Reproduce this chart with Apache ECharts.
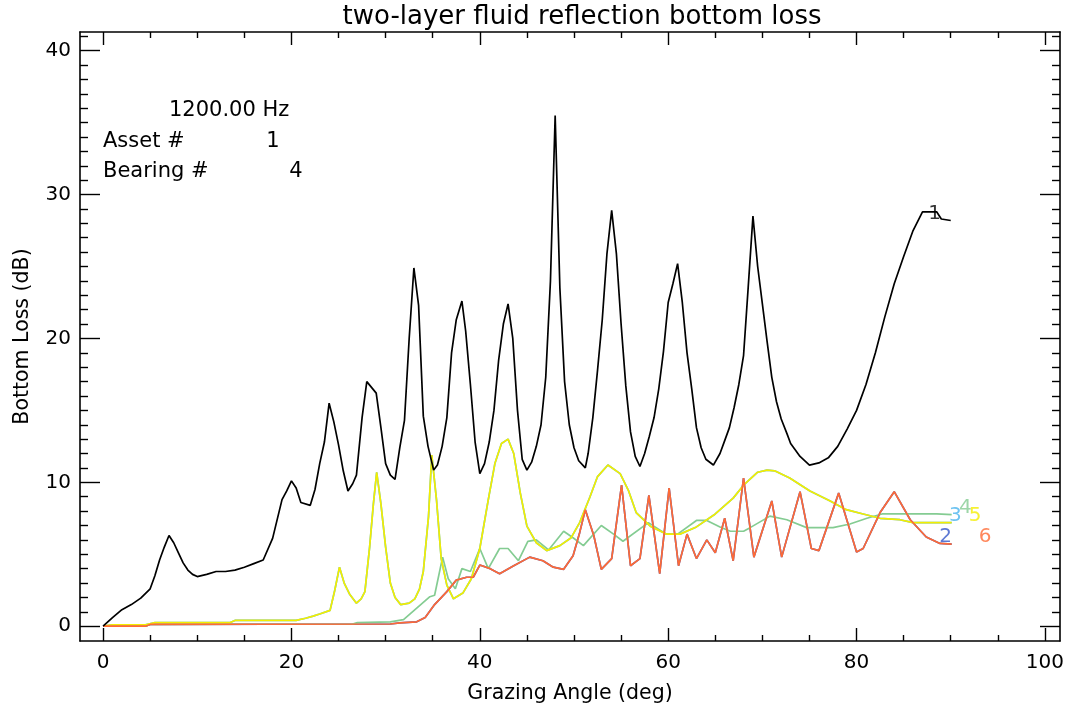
<!DOCTYPE html>
<html>
<head>
<meta charset="utf-8">
<title>two-layer fluid reflection bottom loss</title>
<script src="https://cdn.jsdelivr.net/npm/echarts@6/dist/echarts.min.js"></script>
<style>
  html, body { margin: 0; padding: 0; background: #fff; }
  #chart { width: 1069px; height: 709px; }
</style>
</head>
<body>
<div id="chart"></div>
<script>
// Bottom loss (dB) against grazing angle (deg), one [angle, loss] list per curve.
const curve1 = [
  [0,0],[1,0.6],[2,1.15],[3,1.5],[4,1.95],[5,2.6],[5.5,3.5],[6,4.6],[6.5,5.5],[7,6.3],[7.5,5.8],[8,5.1],[8.5,4.4],[9,3.9],[9.5,3.6],[10,3.45],
  [11,3.6],[12,3.8],[13,3.8],[14,3.9],[15,4.1],[16,4.35],[17,4.6],[18,6.1],[19,8.8],[19.5,9.4],[20,10.1],[20.5,9.6],[21,8.6],[22,8.4],
  [22.5,9.5],[23,11.3],[23.5,12.8],[24,15.5],[24.5,14.2],[25,12.6],[25.5,10.8],[26,9.4],[26.5,9.9],[26.9,10.5],[27.5,14.5],[28,17.0],
  [28.5,16.6],[29,16.2],[29.5,13.8],[30,11.3],[30.5,10.5],[31,10.2],[31.5,12.4],[32,14.3],[32.5,20],[33,24.9],[33.5,22.3],[34,14.6],
  [34.5,12.5],[35.1,10.85],[35.5,11.2],[36,12.5],[36.5,14.5],[37,19],[37.5,21.3],[38.1,22.6],[38.5,20.5],[39,16.8],[39.5,12.8],[40,10.6],
  [40.5,11.3],[41,12.8],[41.5,15],[42,18.5],[42.5,21],[43,22.4],[43.5,20],[44,15],[44.5,11.6],[45,10.85],[45.5,11.4],[46,12.5],[46.5,14],
  [47,17.3],[47.5,24],[48,35.5],[48.5,23.5],[49,17],[49.5,14],[50,12.4],[50.5,11.5],[51.2,11.0],[51.5,12],[52,14.5],[52.5,17.8],[53,21.3],
  [53.5,25.9],[54,28.9],[54.5,25.9],[55,21],[55.5,16.7],[56,13.5],[56.5,11.8],[57,11.1],[57.5,12],[58,13.2],[58.5,14.5],[59,16.5],[59.5,19.1],
  [60,22.5],[60.5,23.8],[61,25.2],[61.5,22.5],[62,19],[62.5,16.5],[63,13.8],[63.5,12.4],[64,11.6],[64.8,11.2],[65.5,12],[66,12.9],[66.5,13.8],
  [67,15.2],[67.5,16.8],[68,18.8],[68.5,23.6],[69,28.5],[69.5,25],[70,22.4],[70.5,19.8],[71,17.3],[71.5,15.6],[72,14.4],[72.6,13.4],[73,12.7],
  [74,11.8],[75,11.2],[76,11.35],[77,11.7],[78,12.5],[79,13.7],[80,15],[81,16.8],[82,19],[83,21.5],[84,23.8],[85,25.7],[86,27.5],[87,28.8],
  [88.5,28.8],[89,28.3],[90,28.2]
];

const curve4 = [
  [0,0],[4.5,0],[5,0.12],[26.5,0.15],[27,0.25],[30.5,0.3],[31.9,0.45],[33.3,1.25],[34.7,2.05],[35.2,2.15],[36.05,4.8],[36.65,3.3],[37.4,2.6],
  [38.1,4.0],[39,3.8],[40,5.4],[40.9,4.0],[42.1,5.4],[43,5.4],[44.1,4.55],[45.1,5.9],[46,6.0],[47.3,5.3],[48.9,6.6],[49.9,6.15],[51,5.6],
  [52.9,7.0],[54.2,6.4],[55.2,5.9],[57.9,7.2],[59.8,6.4],[61,6.4],[63,7.35],[64.1,7.35],[65.5,6.9],[66.6,6.6],[68,6.6],[68.7,6.85],[70.8,7.65],
  [72.6,7.4],[74.7,6.85],[77.5,6.85],[79.3,7.1],[81.1,7.5],[82.7,7.8],[85.3,7.8],[88.5,7.8],[90.1,7.75]
];

const curve5 = [
  [0,0],[1,0.1],[4.5,0.1],[5.5,0.25],[13.5,0.25],[14,0.4],[20.5,0.4],[21.5,0.55],[22.3,0.7],[23,0.85],[24.1,1.1],[24.6,2.5],[25.1,4.1],
  [25.6,3.0],[26.2,2.2],[26.9,1.6],[27.4,1.9],[27.8,2.4],[28.3,5.5],[28.7,8.5],[29.05,10.7],[29.5,8.5],[30,5.5],[30.5,3.0],[31,2.0],[31.6,1.5],
  [32.5,1.6],[33.1,1.9],[33.6,2.6],[34,3.8],[34.55,7.6],[34.9,11.9],[35,11.9],[35.4,8.8],[35.9,4.7],[36.5,2.85],[37.2,1.9],[38.2,2.3],[39.1,3.3],
  [40,5.4],[40.9,8.8],[41.6,11.3],[42.3,12.7],[43,13.0],[43.6,12.0],[44.3,9.25],[45,6.95],[46,5.8],[47.1,5.25],[48.5,5.6],[49.7,6.15],[50.6,7.2],
  [51.7,9.0],[52.5,10.4],[53.6,11.2],[54.9,10.6],[55.8,9.4],[56.6,7.9],[58.1,6.95],[59.8,6.4],[61.25,6.4],[63,6.9],[65,7.8],[66.9,8.9],[68,9.8],
  [69.5,10.7],[70.5,10.85],[71.3,10.8],[72.9,10.3],[75.05,9.4],[77.2,8.7],[78.9,8.1],[80.7,7.8],[82.5,7.5],[84.6,7.4],[86,7.2],[90.1,7.2]
];

const curve6 = [
  [0,0],[4.5,0],[5,0.12],[30.5,0.15],[31.5,0.23],[33.3,0.3],[34.2,0.6],[35.2,1.5],[36.5,2.4],[37.5,3.2],[38.6,3.4],[39.3,3.4],[40,4.25],
  [41.1,4.0],[42.1,3.65],[43.6,4.2],[45.3,4.8],[46.7,4.55],[47.8,4.1],[48.9,3.95],[49.9,4.9],[50.6,6.5],[51.2,8.1],[52.1,6.3],[52.9,3.95],
  [54,4.7],[55.05,9.8],[56,4.2],[57,4.7],[57.95,9.1],[59.1,3.65],[60.1,9.6],[61.1,4.2],[62,6.4],[63,4.7],[64.1,6.0],[65,5.1],[66,7.5],
  [66.9,4.55],[68,10.3],[69.1,4.8],[71,8.7],[72.05,4.8],[74,9.35],[75.2,5.4],[76,5.25],[78.1,9.25],[80,5.15],[80.7,5.4],[82.5,7.9],
  [84,9.35],[85.7,7.4],[87.4,6.2],[88.85,5.75],[90.1,5.7]
];

// Curves 2 and 3 lie under curves 6 and 5 along their whole length.
const curve2 = curve6;
const curve3 = curve5;

const curveNames = ['1', '2', '3', '4', '5', '6'];
const curveData = [curve1, curve2, curve3, curve4, curve5, curve6];
const curveColors = ['#000000', '#3556c8', '#48b4ee', '#84cc92', '#f4ee00', '#ff6a35'];
const curveZ = [8, 2, 3, 4, 5, 6];

const xMajorTicks = [0, 20, 40, 60, 80, 100];
const xMinorTicks = [5, 10, 15, 25, 30, 35, 45, 50, 55, 65, 70, 75, 85, 90, 95];
const yMajorTicks = [0, 10, 20, 30, 40];
const yMinorTicks = [];
for (let v = 0; v <= 41; v++) if (v % 10 !== 0) yMinorTicks.push(v);

const X_MIN = -2.45, X_MAX = 101.6, Y_MIN = -1.03, Y_MAX = 41.3;
const FONT = 'DejaVu Sans';
const INK = '#000';
const TEXT_SIZE = 20;

function axisPiece(kind, position, ticks, len, withLine, withLabels) {
  const isX = kind === 'x';
  const ax = {
    type: 'value',
    position: position,
    min: isX ? X_MIN : Y_MIN,
    max: isX ? X_MAX : Y_MAX,
    splitLine: { show: false },
    axisLine: { show: withLine, onZero: false, lineStyle: { color: INK, width: 1.6 } },
    axisTick: { show: true, inside: true, length: len, customValues: ticks, lineStyle: { color: INK, width: 1.4 } },
    axisLabel: { show: false }
  };
  if (withLabels) {
    ax.axisLabel = {
      show: true, customValues: ticks, color: INK, fontFamily: FONT, fontSize: TEXT_SIZE,
      margin: isX ? 12 : 9
    };
  }
  return ax;
}

const xBottom = axisPiece('x', 'bottom', xMajorTicks, 13, true, true);
xBottom.name = 'Grazing Angle (deg)';
xBottom.nameLocation = 'middle';
xBottom.nameGap = 42;
xBottom.nameTextStyle = { color: INK, fontFamily: FONT, fontSize: TEXT_SIZE + 0.5 };

const yLeft = axisPiece('y', 'left', yMajorTicks, 20, true, true);
yLeft.name = 'Bottom Loss (dB)';
yLeft.nameLocation = 'middle';
yLeft.nameGap = 47;
yLeft.nameRotate = 90;
yLeft.nameTextStyle = { color: INK, fontFamily: FONT, fontSize: TEXT_SIZE + 0.5 };

const xAxes = [
  xBottom,
  axisPiece('x', 'bottom', xMinorTicks, 6, false, false),
  axisPiece('x', 'top', xMajorTicks, 13, true, false),
  axisPiece('x', 'top', xMinorTicks, 6, false, false)
];
const yAxes = [
  yLeft,
  axisPiece('y', 'left', yMinorTicks, 8, false, false),
  axisPiece('y', 'right', yMajorTicks, 20, true, false),
  axisPiece('y', 'right', yMinorTicks, 8, false, false)
];

const series = curveData.map((d, i) => ({
  name: curveNames[i],
  type: 'line',
  data: d,
  xAxisIndex: 0,
  yAxisIndex: 0,
  showSymbol: false,
  symbol: 'none',
  z: curveZ[i],
  lineStyle: { color: curveColors[i], width: 1.7 },
  emphasis: { disabled: true }
}));

// Curve numbers written just past the end of each curve, stepping right.
curveData.forEach((d, i) => {
  const last = d[d.length - 1];
  series.push({
    type: 'scatter',
    xAxisIndex: 0,
    yAxisIndex: 0,
    symbolSize: 0,
    z: 10,
    data: [[last[0] - 1.7 + 1.05 * i, last[1]]],
    label: {
      show: true, position: 'inside', offset: [0, -7],
      formatter: curveNames[i], color: curveColors[i],
      fontFamily: FONT, fontSize: TEXT_SIZE
    },
    emphasis: { disabled: true }
  });
});

function note(text, x, y, align, size) {
  return {
    type: 'text', x: x, y: y,
    style: { text: text, fill: INK, font: size + 'px "' + FONT + '"', align: align, verticalAlign: 'middle' }
  };
}

const chart = echarts.init(document.getElementById('chart'), null, { renderer: 'canvas' });
chart.setOption({
  animation: false,
  backgroundColor: '#fff',
  grid: { left: 80, right: 9, top: 32, bottom: 59, containLabel: false },
  xAxis: xAxes,
  yAxis: yAxes,
  series: series,
  graphic: [
    note('two-layer fluid reflection bottom loss', 582, 17, 'center', 26),
    note('1200.00 Hz', 169, 111, 'left', 21),
    note('Asset #', 103, 142, 'left', 21),
    note('1', 273, 142, 'center', 21),
    note('Bearing #', 103, 172, 'left', 21),
    note('4', 296, 172, 'center', 21)
  ]
});
</script>
</body>
</html>
